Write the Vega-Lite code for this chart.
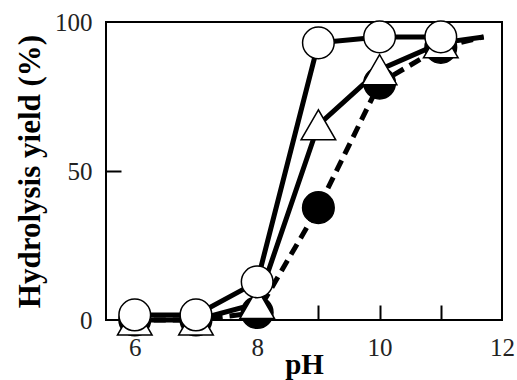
{
  "$schema": "https://vega.github.io/schema/vega-lite/v6.json",
  "width": 396,
  "height": 298,
  "autosize": "none",
  "padding": {"left": 106, "top": 22, "right": 15, "bottom": 60},
  "background": "white",
  "config": {
    "view": {"stroke": "black", "strokeWidth": 2},
    "font": "Liberation Serif",
    "axis": {
      "domain": false,
      "grid": false,
      "zindex": 1,
      "labelFont": "Liberation Serif",
      "labelFontSize": 25,
      "labelColor": "#222222",
      "titleFont": "Liberation Serif",
      "titleFontWeight": "bold",
      "titleColor": "black",
      "tickWidth": 2,
      "tickColor": "black"
    }
  },
  "data": {
    "values": [
      {"s": "open", "pH": 6, "y": 1.7, "m": true},
      {"s": "open", "pH": 7, "y": 1.7, "m": true},
      {"s": "open", "pH": 8, "y": 12.8, "m": true},
      {"s": "open", "pH": 9, "y": 93, "m": true},
      {"s": "open", "pH": 10, "y": 95, "m": true},
      {"s": "open", "pH": 11, "y": 95, "m": true},
      {"s": "tri", "pH": 6, "y": 0, "m": true},
      {"s": "tri", "pH": 7, "y": 0, "m": true},
      {"s": "tri", "pH": 8, "y": 5.5, "m": true},
      {"s": "tri", "pH": 9, "y": 65.5, "m": true},
      {"s": "tri", "pH": 10, "y": 84, "m": true},
      {"s": "tri", "pH": 11, "y": 93, "m": true},
      {"s": "tri", "pH": 11.7, "y": 95, "m": false},
      {"s": "filled", "pH": 6, "y": 0, "m": true},
      {"s": "filled", "pH": 7, "y": 0, "m": true},
      {"s": "filled", "pH": 8, "y": 2.5, "m": true},
      {"s": "filled", "pH": 9, "y": 37.7, "m": true},
      {"s": "filled", "pH": 10, "y": 79.5, "m": true},
      {"s": "filled", "pH": 11, "y": 91.5, "m": true},
      {"s": "filled", "pH": 11.7, "y": 95, "m": false}
    ]
  },
  "encoding": {
    "x": {
      "field": "pH",
      "type": "quantitative",
      "scale": {"domain": [5.53, 12], "nice": false, "zero": false},
      "axis": {
        "values": [6, 8, 9, 10, 11, 12],
        "labelExpr": "datum.value==9||datum.value==11?'':datum.label",
        "offset": -15,
        "ticks": true,
        "tickSize": 15,
        "tickOpacity": {"condition": {"test": "datum.value>=9 && datum.value<=11", "value": 1}, "value": 0},
        "labelPadding": 15,
        "labelFlush": false,
        "labelOverlap": false,
        "title": "pH",
        "titleFontSize": 29,
        "titleBaseline": "alphabetic",
        "titleY": 68
      }
    },
    "y": {
      "field": "y",
      "type": "quantitative",
      "scale": {"domain": [0, 100], "nice": false},
      "axis": {
        "values": [0, 50, 100],
        "offset": -15,
        "ticks": true,
        "tickSize": 15,
        "tickOpacity": {"condition": {"test": "datum.value==50", "value": 1}, "value": 0},
        "labelPadding": 14,
        "labelFlush": false,
        "labelOverlap": false,
        "title": "Hydrolysis yield (%)",
        "titleFontSize": 31,
        "titleX": -91,
        "titleY": 149,
        "titleAngle": -90,
        "titleBaseline": "middle",
        "titleAlign": "center"
      }
    }
  },
  "layer": [
    {
      "transform": [{"filter": "datum.s != 'filled'"}],
      "mark": {"type": "line", "strokeWidth": 5, "color": "black"},
      "encoding": {"detail": {"field": "s"}}
    },
    {
      "transform": [{"filter": "datum.s == 'filled'"}],
      "mark": {"type": "line", "strokeWidth": 5, "color": "black", "strokeDash": [12, 7]},
      "encoding": {}
    },
    {
      "transform": [{"filter": "datum.s == 'filled' && datum.m"}],
      "mark": {"type": "point", "shape": "circle", "filled": true, "fill": "black", "stroke": "black", "strokeWidth": 1.5, "size": 1000, "opacity": 1},
      "encoding": {}
    },
    {
      "transform": [{"filter": "datum.s == 'tri' && datum.m"}],
      "mark": {"type": "point", "shape": "triangle-up", "filled": true, "fill": "white", "stroke": "black", "strokeWidth": 1.5, "size": 1200, "opacity": 1},
      "encoding": {}
    },
    {
      "transform": [{"filter": "datum.s == 'open' && datum.m"}],
      "mark": {"type": "point", "shape": "circle", "filled": true, "fill": "white", "stroke": "black", "strokeWidth": 1.5, "size": 1000, "opacity": 1},
      "encoding": {}
    }
  ]
}
